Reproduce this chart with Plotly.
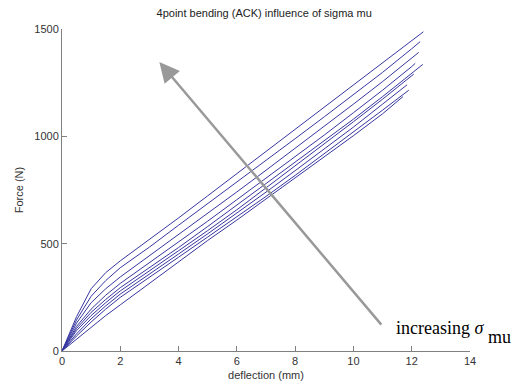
import plotly.graph_objects as go

# deflection (mm) sample points and force (N) for each sigma_mu curve (top -> bottom)
x_common = [0, 0.5, 1, 1.5, 2, 2.5, 3, 4, 5, 6, 7, 8, 9, 10, 11, 12]

curves = [
    {"x": x_common + [12.4],  "y": [0, 160, 290, 365, 420, 470, 518, 620, 723, 826, 929, 1032, 1134, 1237, 1340, 1445, 1487]},
    {"x": x_common + [12.29], "y": [0, 145, 255, 328, 388, 436, 484, 586, 686, 787, 888, 989, 1091, 1194, 1298, 1408, 1441]},
    {"x": x_common + [12.24], "y": [0, 130, 225, 290, 345, 394, 443, 541, 640, 741, 842, 944, 1046, 1150, 1255, 1363, 1391]},
    {"x": x_common + [12.12], "y": [0, 115, 195, 260, 315, 363, 411, 507, 605, 705, 805, 905, 1006, 1110, 1215, 1325, 1340]},
    {"x": x_common + [12.38], "y": [0, 105, 180, 240, 295, 341, 387, 482, 580, 680, 778, 877, 978, 1080, 1185, 1293, 1335]},
    {"x": x_common + [12.07], "y": [0, 95, 165, 225, 280, 326, 372, 467, 561, 658, 760, 862, 965, 1068, 1173, 1282, 1290]},
    {"x": x_common[:-1] + [11.84], "y": [0, 80, 150, 210, 265, 311, 357, 452, 546, 642, 740, 840, 940, 1043, 1150, 1240]},
    {"x": x_common[:-1] + [11.9],  "y": [0, 70, 135, 195, 250, 296, 342, 437, 531, 625, 720, 818, 918, 1018, 1122, 1215]},
    {"x": x_common[:-1] + [11.7],  "y": [0, 55, 110, 165, 215, 265, 315, 415, 515, 610, 708, 805, 903, 1003, 1105, 1185]},
]

x_ticks = [0, 2, 4, 6, 8, 10, 12, 14]
y_ticks = [0, 500, 1000, 1500]

arrow_tail = (11.0, 116)
arrow_head = (3.34, 1346)

fig = go.Figure()
for c in curves:
    fig.add_trace(go.Scatter(x=c["x"], y=c["y"], mode="lines",
                             line=dict(color="rgb(55,55,160)", width=1),
                             showlegend=False, hoverinfo="skip"))

axis_common = dict(showgrid=False, zeroline=False, showline=True, linecolor="#808080",
                   linewidth=1, ticks="inside", ticklen=5, tickcolor="#808080", automargin=False,
                   tickfont=dict(family="Liberation Sans, Arial", size=11, color="#333333"))

fig.update_layout(
    width=518, height=389,
    margin=dict(l=62, r=48, t=29, b=38, autoexpand=False),
    paper_bgcolor="white", plot_bgcolor="white",
    title=dict(text="4point bending (ACK) influence of sigma mu", x=0.51, xanchor="center",
               y=0.965, yanchor="middle", automargin=False,
               font=dict(family="Liberation Sans, Arial", size=11, color="#222222")),
    xaxis=dict(range=[0, 14], tickvals=x_ticks, title=dict(text="deflection (mm)", standoff=5,
               font=dict(family="Liberation Sans, Arial", size=11, color="#333333")), **axis_common),
    yaxis=dict(range=[0, 1500], tickvals=y_ticks, title=dict(text="Force (N)", standoff=8,
               font=dict(family="Liberation Sans, Arial", size=11, color="#333333")), **axis_common),
)

fig.add_annotation(x=arrow_head[0], y=arrow_head[1], ax=arrow_tail[0], ay=arrow_tail[1],
                   xref="x", yref="y", axref="x", ayref="y", text="", showarrow=True,
                   arrowhead=2, arrowsize=1.6, arrowwidth=2.5, arrowcolor="#999999", standoff=0)

fig.add_annotation(x=0.814, y=0.0714, xref="paper", yref="paper", xanchor="left", yanchor="middle",
                   text="increasing <i>σ</i>", showarrow=False,
                   font=dict(family="Liberation Serif, Times New Roman", size=18, color="black"))
fig.add_annotation(x=1.04, y=0.043, xref="paper", yref="paper", xanchor="left", yanchor="middle",
                   text="mu", showarrow=False,
                   font=dict(family="Liberation Serif, Times New Roman", size=18, color="black"))

fig.write_html("out.html")
